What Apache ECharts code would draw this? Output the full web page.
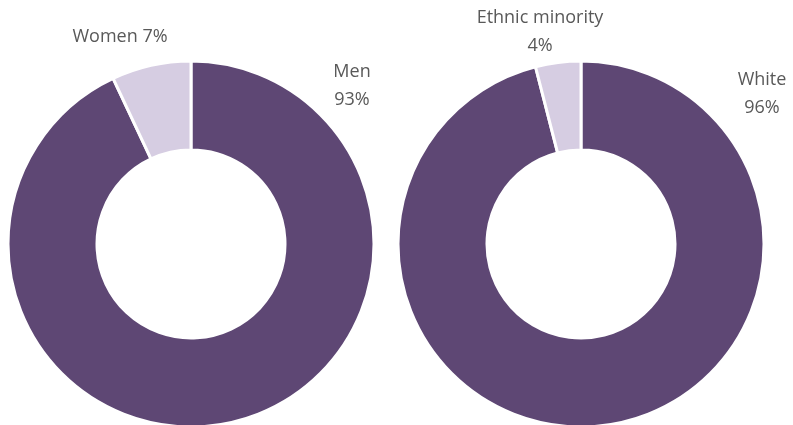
<!DOCTYPE html>
<html>
<head>
<meta charset="utf-8">
<script src="https://cdn.jsdelivr.net/npm/echarts@6/dist/echarts.min.js"></script>
<style>
  html, body { margin: 0; padding: 0; background: #fff; }
  #chart { width: 793px; height: 425px; }
</style>
</head>
<body>
<div id="chart"></div>
<script>
// Gender split
const genderNames = ['Men', 'Women'];
const genderValues = [93, 7];
// Ethnicity split
const ethnicNames = ['White', 'Ethnic minority'];
const ethnicValues = [96, 4];

const colors = ['#5E4774', '#D6CDE2'];
const textColor = '#595959';
const font = '"Open Sans", "Liberation Sans", sans-serif';

// label anchor points (centre of text block) for each slice
const genderLabelPos = [[352, 86], [120, 37]];
const ethnicLabelPos = [[762, 94], [540, 32]];

function buildData(names, values) {
  return names.map((n, i) => ({
    name: n,
    value: values[i],
    itemStyle: { color: colors[i] }
  }));
}

function labelFormatter(singleLine) {
  return function (p) {
    return singleLine[p.dataIndex] ? p.name + ' ' + p.value + '%' : p.name + '\n' + p.value + '%';
  };
}

function makePie(center, names, values, singleLine, positions) {
  return {
    type: 'pie',
    center: center,
    radius: [94, 183],
    startAngle: 90,
    clockwise: true,
    silent: true,
    itemStyle: { borderColor: '#ffffff', borderWidth: 3 },
    label: {
      show: true,
      position: 'outside',
      formatter: labelFormatter(singleLine),
      color: textColor,
      fontFamily: font,
      fontSize: 18,
      lineHeight: 28,
      align: 'center'
    },
    labelLine: { show: false },
    labelLayout: function (params) {
      const pos = positions[params.dataIndex];
      return { x: pos[0], y: pos[1], align: 'center', verticalAlign: 'middle' };
    },
    data: buildData(names, values)
  };
}

const chart = echarts.init(document.getElementById('chart'), null, { renderer: 'canvas' });
chart.setOption({
  animation: false,
  series: [
    makePie([191, 244], genderNames, genderValues, [false, true], genderLabelPos),
    makePie([581, 244], ethnicNames, ethnicValues, [false, false], ethnicLabelPos)
  ]
});
</script>
</body>
</html>
